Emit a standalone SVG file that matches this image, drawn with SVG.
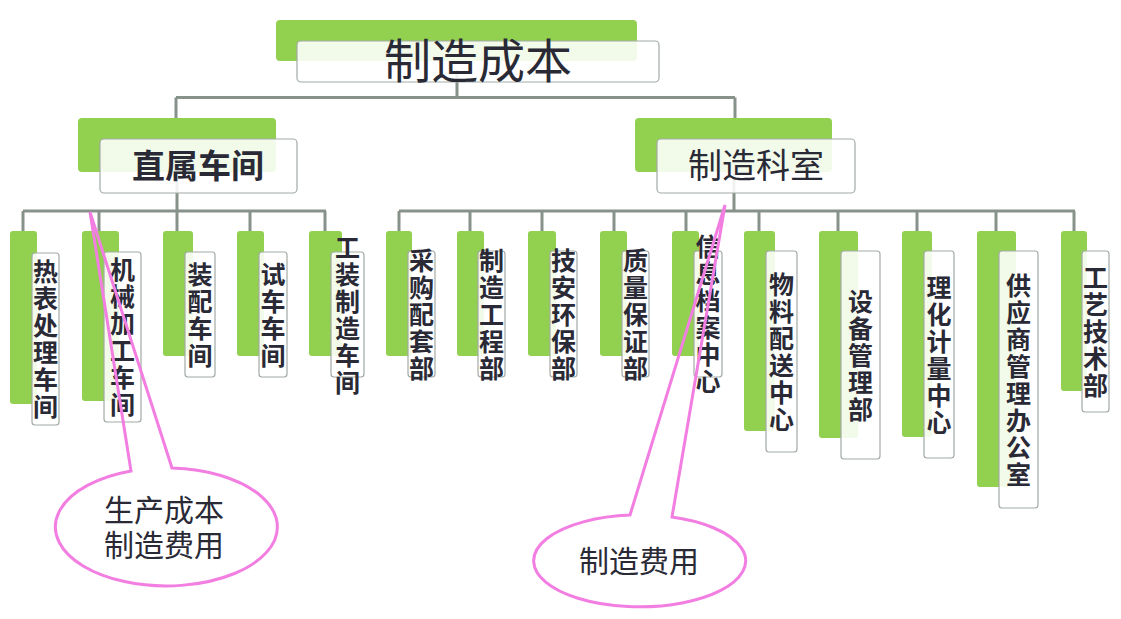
<svg xmlns="http://www.w3.org/2000/svg" width="1121" height="619" viewBox="0 0 1121 619">
<style>
.g{fill:#92d050}
.w{fill:#ffffff;fill-opacity:0.88;stroke:#a3aba6;stroke-width:1.2}
.c{stroke:#87928a;stroke-width:3;fill:none}
.t{font-family:"Noto Sans CJK SC","Noto Sans",sans-serif;fill:#2a2a36}
.k{font-family:"Liberation Sans","Noto Sans CJK SC",sans-serif;fill:#2a2a36}
.v{font-family:"Noto Sans CJK SC","Noto Sans",sans-serif;fill:#2a2a36;font-size:25px;font-weight:bold;text-anchor:middle;writing-mode:vertical-rl;letter-spacing:2px}
.p{stroke:#f27ee2;stroke-width:3;fill:none}
</style>
<rect width="1121" height="619" fill="#ffffff"/>
<g id="connectors">
<path class="c" d="M457 70V97.5M176 97.5H735M176 97.5V150M735 97.5V150"/>
<path class="c" d="M177 170V211M23 211H326M23 211V240M99 211V240M177 211V240M250 211V240M325 211V240"/>
<path class="c" d="M734 170V211M399 211H1075M399 211V240M470 211V240M542 211V240M614 211V240M686 211V240M759 211V240M838 211V240M917 211V240M996 211V240M1074 211V240"/>
</g>
<g id="root">
<rect class="g" x="276" y="20" width="361" height="41" rx="4"/>
<rect class="w" x="297" y="41" width="362" height="41" rx="4"/>
<text class="t" x="478" y="78" font-size="47" text-anchor="middle">制造成本</text>
</g>
<g id="n-zhishu">
<rect class="g" x="78" y="118" width="198" height="54" rx="4"/>
<rect class="w" x="100" y="139" width="197" height="54" rx="4"/>
<text class="t" x="198" y="178" font-size="33" font-weight="bold" text-anchor="middle">直属车间</text>
</g>
<g id="n-keshi">
<rect class="g" x="635" y="118" width="197" height="54" rx="4"/>
<rect class="w" x="657" y="139" width="198" height="54" rx="4"/>
<text class="t" x="756" y="178" font-size="34" text-anchor="middle">制造科室</text>
</g>
<g id="n-rebiao">
<rect class="g" x="10" y="231" width="27" height="173" rx="3"/>
<rect class="w" x="32" y="253" width="27" height="172" rx="3"/>
<text class="v" x="45.5" y="340">热表处理车间</text>
</g>
<g id="n-jixie">
<rect class="g" x="82" y="231" width="37" height="170" rx="3"/>
<rect class="w" x="104" y="252" width="37" height="170" rx="3"/>
<text class="v" x="122.5" y="338">机械加工车间</text>
</g>
<g id="n-zhuangpei">
<rect class="g" x="163" y="231" width="30" height="125" rx="3"/>
<rect class="w" x="185" y="252" width="30" height="125" rx="3"/>
<text class="v" x="200" y="315.5">装配车间</text>
</g>
<g id="n-shiche">
<rect class="g" x="237" y="231" width="27" height="125" rx="3"/>
<rect class="w" x="259" y="252" width="28" height="125" rx="3"/>
<text class="v" x="273" y="315.5">试车车间</text>
</g>
<g id="n-gongzhuang">
<rect class="g" x="309" y="231" width="33" height="125" rx="3"/>
<rect class="w" x="331" y="252" width="33" height="125" rx="3"/>
<text class="v" x="347.5" y="315.5">工装制造车间</text>
</g>
<g id="n-caigou">
<rect class="g" x="386" y="231" width="26" height="125" rx="3"/>
<rect class="w" x="408" y="251" width="27" height="126" rx="3"/>
<text class="v" x="421.5" y="315">采购配套部</text>
</g>
<g id="n-zhizao">
<rect class="g" x="457" y="231" width="27" height="125" rx="3"/>
<rect class="w" x="478" y="251" width="27" height="126" rx="3"/>
<text class="v" x="491.5" y="315">制造工程部</text>
</g>
<g id="n-jian">
<rect class="g" x="528" y="231" width="28" height="125" rx="3"/>
<rect class="w" x="550" y="251" width="27" height="126" rx="3"/>
<text class="v" x="563.5" y="315">技安环保部</text>
</g>
<g id="n-zhiliang">
<rect class="g" x="600" y="231" width="27" height="125" rx="3"/>
<rect class="w" x="622" y="251" width="27" height="126" rx="3"/>
<text class="v" x="635.5" y="315">质量保证部</text>
</g>
<g id="n-xinxi">
<rect class="g" x="672" y="231" width="27" height="125" rx="3"/>
<rect class="w" x="694" y="251" width="28" height="126" rx="3"/>
<text class="v" x="708" y="315">信息档案中心</text>
</g>
<g id="n-wuliao">
<rect class="g" x="744" y="231" width="31" height="200" rx="3"/>
<rect class="w" x="766" y="251" width="31" height="201" rx="3"/>
<text class="v" x="781.5" y="352.5">物料配送中心</text>
</g>
<g id="n-shebei">
<rect class="g" x="819" y="231" width="39" height="207" rx="3"/>
<rect class="w" x="841" y="251" width="39" height="208" rx="3"/>
<text class="v" x="860.5" y="356">设备管理部</text>
</g>
<g id="n-lihua">
<rect class="g" x="902" y="231" width="30" height="206" rx="3"/>
<rect class="w" x="924" y="251" width="30" height="207" rx="3"/>
<text class="v" x="939" y="355.5">理化计量中心</text>
</g>
<g id="n-gongying">
<rect class="g" x="977" y="231" width="39" height="256" rx="3"/>
<rect class="w" x="999" y="251" width="39" height="257" rx="3"/>
<text class="v" x="1018.5" y="380.5">供应商管理办公室</text>
</g>
<g id="n-gongyi">
<rect class="g" x="1061" y="231" width="26" height="160" rx="3"/>
<rect class="w" x="1082" y="251" width="27" height="161" rx="3"/>
<text class="v" x="1095.5" y="332.5">工艺技术部</text>
</g>
<g id="callout-left">
<path class="p" d="M172 468L90 212L131 471A111 59 0 1 0 172 468Z"/>
<text class="k" font-size="30" text-anchor="middle"><tspan x="164" y="521">生产成本</tspan><tspan x="164" y="556">制造费用</tspan></text>
</g>
<g id="callout-right">
<path class="p" d="M672 517L725 205L630 515A106 46 0 1 0 672 517Z"/>
<text class="t" x="639" y="572" font-size="30" text-anchor="middle">制造费用</text>
</g>
</svg>
